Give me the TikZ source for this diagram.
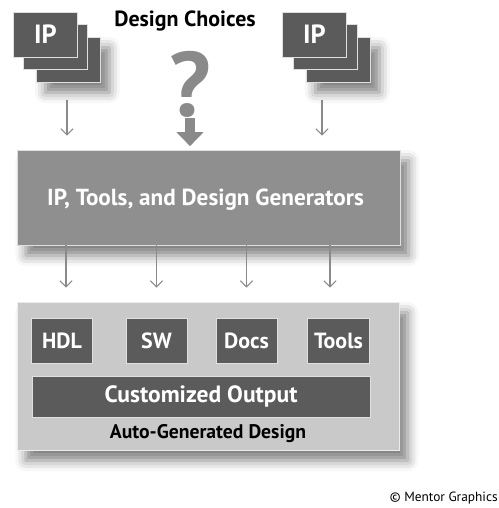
\documentclass[tikz,border=0pt]{standalone}
\usepackage{tikz}
\usetikzlibrary{positioning, arrows.meta, shadows.blur, calc}
\usepackage{fontspec}
\setmainfont{PT Sans}
\definecolor{cardgray}{HTML}{5B5B5B}
\definecolor{gengray}{HTML}{8F8F8F}
\definecolor{outgray}{HTML}{C9C9C9}
\definecolor{linegray}{HTML}{8A8A8A}

\begin{document}
\begin{tikzpicture}[x=0.02cm, y=-0.02cm,
      every node/.style={font=\bfseries},
      ipcard/.style={draw=white!75!gray, fill=cardgray, minimum width=1.28cm, minimum height=0.9cm,
                     text=white, font=\bfseries\fontsize{15}{15}\selectfont},
      outbox/.style={draw=white!75!gray, fill=cardgray, minimum height=0.9cm, text=white,
                     font=\bfseries\fontsize{12.5}{12.5}\selectfont},
      softshadow/.style={blur shadow={shadow xshift=5pt, shadow yshift=-6pt, shadow blur radius=6pt, shadow opacity=50}},
      thinarrow/.style={draw=linegray, line width=0.6pt, -{Straight Barb[width=7pt, length=3.5pt]}},
      bigarrow/.style={draw=linegray, line width=5.5pt, -{Triangle[width=15pt, length=8pt]}},
    ]
    \useasboundingbox (0,0) rectangle (499,508);

    % IP stacks at the top
    \node[ipcard, softshadow] (ipLc) at (68.5,59.5) {};
    \node[ipcard] (ipLb) at (55,47) {};
    \node[ipcard] (ipLa) at (45.5,34.5) {IP};
    \node[ipcard, softshadow] (ipRc) at (338.5,59.5) {};
    \node[ipcard] (ipRb) at (325,47) {};
    \node[ipcard] (ipRa) at (314.5,34.5) {IP};

    \node[font=\bfseries\fontsize{12.5}{12.5}\selectfont] (choices) at (185,21) {Design Choices};
    \node[text=linegray, font=\bfseries\fontsize{52}{52}\selectfont, inner sep=0pt] (qm) at (190,84) {?};

    % generators
    \node[fill=gengray, draw=white!75!gray, minimum width=7.66cm, minimum height=1.9cm, softshadow] (gen) at (208.5,197.5) {};
    \node[text=white, font=\bfseries\fontsize{13.2}{13.2}\selectfont, anchor=west] (gentext) at (41,200)
          {IP, Tools, and Design Generators};

    % auto-generated design
    \node[fill=outgray, draw=white!85!gray, minimum width=7.64cm, minimum height=2.96cm, softshadow] (auto) at (208,376) {};
    \node[outbox, minimum width=1.22cm] (hdl) at (62,340.5) {HDL};
    \node[outbox, minimum width=1.22cm] (sw) at (156.5,340.5) {SW};
    \node[outbox, minimum width=1.22cm] (docs) at (246.5,340.5) {Docs};
    \node[outbox, minimum width=1.24cm] (tools) at (338.5,340.5) {Tools};
    \node[outbox, minimum width=6.76cm, minimum height=0.82cm, font=\bfseries\fontsize{13.4}{13.4}\selectfont] (custom) at (201,396.5) {Customized Output};
    \node[font=\bfseries\fontsize{11.2}{11.2}\selectfont] (autolabel) at (208,434) {Auto-Generated Design};

    \node[anchor=east, font=\fontsize{7.6}{7.6}\selectfont, inner sep=0pt] (credit) at (498,498) {\textcopyright{} Mentor Graphics};

    \coordinate (ipLout) at (67,100);
    \coordinate (ipRout) at (322,100);
    \coordinate (qmout) at (190,118);
    \draw[thinarrow, shorten >=8pt] (ipLout) -- (ipLout |- gen.north);
    \draw[thinarrow, shorten >=8pt] (ipRout) -- (ipRout |- gen.north);
    \draw[bigarrow, shorten >=2pt] (qmout) -- (qmout |- gen.north);
    \draw[thinarrow, shorten >=8pt] (gen.south -| 66,0) -- (auto.north -| 66,0);
    \draw[thinarrow, shorten >=8pt] (gen.south -| sw) -- (auto.north -| sw);
    \draw[thinarrow, shorten >=8pt] (gen.south -| docs) -- (auto.north -| docs);
    \draw[thinarrow, shorten >=8pt] (gen.south -| 330,0) -- (auto.north -| 330,0);
  \end{tikzpicture}
\end{document}
